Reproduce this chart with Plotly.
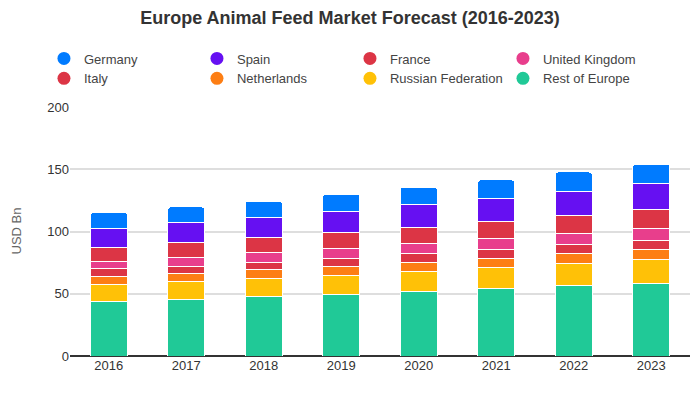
import plotly.graph_objects as go

years = ["2016", "2017", "2018", "2019", "2020", "2021", "2022", "2023"]

rest_of_europe = [43.9, 45.2, 47.9, 49.6, 52.0, 54.1, 56.8, 58.4]
russian_federation = [13.7, 14.8, 14.5, 15.2, 16.0, 17.1, 17.7, 19.3]
netherlands = [6.4, 6.4, 7.2, 7.2, 7.3, 7.3, 8.0, 8.0]
italy = [5.9, 5.6, 5.3, 6.5, 7.2, 7.2, 7.2, 7.2]
united_kingdom = [6.2, 7.3, 8.4, 8.0, 8.0, 8.5, 8.9, 9.6]
france = [11.2, 12.0, 12.0, 12.9, 12.9, 14.0, 14.4, 15.3]
spain = [15.3, 16.3, 16.1, 16.8, 18.4, 18.5, 19.3, 20.9]
germany = [12.5, 12.1, 13.1, 13.9, 13.9, 14.7, 15.5, 15.5]

series = [
    ("Rest of Europe", rest_of_europe, "#20c997"),
    ("Russian Federation", russian_federation, "#ffc107"),
    ("Netherlands", netherlands, "#fd7e14"),
    ("Italy", italy, "#dc3545"),
    ("United Kingdom", united_kingdom, "#e83e8c"),
    ("France", france, "#dc3545"),
    ("Spain", spain, "#6610f2"),
    ("Germany", germany, "#007bff"),
]

fig = go.Figure()
for name, vals, color in series:
    fig.add_trace(go.Bar(
        x=years, y=vals, name=name, marker=dict(color=color, line=dict(color="white", width=1)),
        showlegend=False, legendgroup=name,
        hovertemplate="%{x}<br>" + name + ": %{y}<extra></extra>",
    ))
for name, vals, color in series:
    fig.add_trace(go.Scatter(
        x=[None], y=[None], mode="markers", name=name, legendgroup=name,
        marker=dict(color=color, size=13, symbol="circle"), showlegend=True,
    ))

# page body adds an 8px offset; layout is shifted up/left to compensate
fig.update_layout(
    template="none",
    barmode="stack",
    bargap=0.52,
    barcornerradius=3,
    width=700, height=400,
    margin=dict(l=62, r=18, t=98, b=52, autoexpand=False),
    paper_bgcolor="white", plot_bgcolor="white",
    font=dict(family="Liberation Sans, Arial, sans-serif", size=13, color="#444"),
    title=dict(text="<b>Europe Animal Feed Market Forecast (2016-2023)</b>",
               x=0.5 - 8 / 700, xanchor="center", y=0.975, yanchor="middle", yref="container",
               font=dict(size=18, color="#333")),
    legend=dict(orientation="h", traceorder="reversed", x=-0.042, xanchor="left",
                y=1.25, yanchor="top", entrywidth=108, entrywidthmode="pixels",
                bgcolor="rgba(0,0,0,0)",
                font=dict(size=13, color="#444"), itemclick=False),
    xaxis=dict(showgrid=False, showline=False, zeroline=False,
               tickfont=dict(size=13, color="#333"), ticks=""),
    yaxis=dict(range=[0, 200.8], tickvals=[0, 50, 100, 150, 200],
               showgrid=True, gridcolor="#dedede", gridwidth=1.5, ticks="", showline=False,
               zeroline=True, zerolinecolor="#333", zerolinewidth=2,
               title=dict(text="USD Bn", font=dict(size=13, color="#666"), standoff=22),
               tickfont=dict(size=13, color="#333")),
)

fig.write_html("out.html", config={"displayModeBar": False})
